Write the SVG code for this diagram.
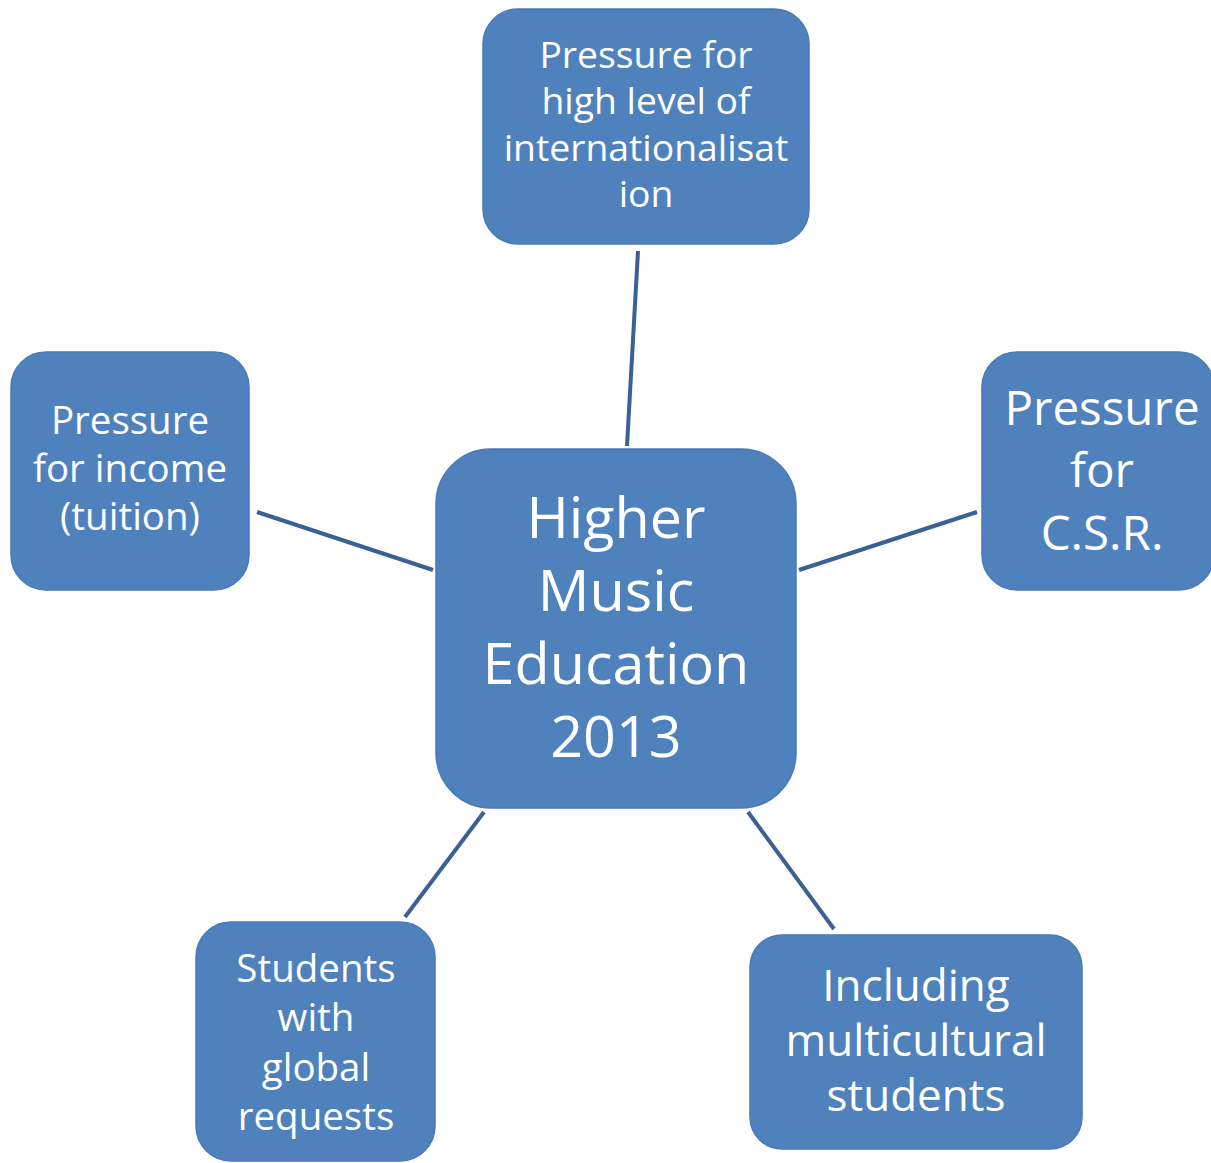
<svg xmlns="http://www.w3.org/2000/svg" width="1211" height="1163" viewBox="0 0 1211 1163">
<style>
.box{fill:#4F81BD;stroke:#4A7AB5;stroke-width:1.5}
.t{fill:#FFFFFF;font-family:"Open Sans","Noto Sans",sans-serif;text-anchor:middle}
.c{stroke:#3A6095;stroke-width:4;fill:none}
</style>
<rect width="1211" height="1163" fill="#FFFFFF"/>
<g id="connectors">
<line class="c" x1="638" y1="251" x2="627" y2="446"/>
<line class="c" x1="257" y1="512" x2="433" y2="570"/>
<line class="c" x1="799" y1="570" x2="977" y2="512"/>
<line class="c" x1="484" y1="812" x2="405" y2="917"/>
<line class="c" x1="748" y1="812" x2="834" y2="929"/>
</g>
<g id="node-center">
<rect class="box" x="436" y="449" width="360" height="359" rx="55"/>
<text class="t" font-size="57.5"><tspan x="616" y="538">Higher</tspan><tspan x="616" y="611">Music</tspan><tspan x="616" y="684">Education</tspan><tspan x="616" y="757">2013</tspan></text>
</g>
<g id="node-top">
<rect class="box" x="483" y="9" width="326" height="235" rx="35"/>
<text class="t" font-size="37.3"><tspan x="646" y="68">Pressure for</tspan><tspan x="646" y="114">high level of</tspan><tspan x="646" y="161">internationalisat</tspan><tspan x="646" y="207">ion</tspan></text>
</g>
<g id="node-left">
<rect class="box" x="11" y="352" width="238" height="238" rx="35"/>
<text class="t" font-size="38.5"><tspan x="130" y="434">Pressure</tspan><tspan x="130" y="482">for income</tspan><tspan x="130" y="530">(tuition)</tspan></text>
</g>
<g id="node-right">
<rect class="box" x="982" y="352" width="232" height="238" rx="35"/>
<text class="t" font-size="47.5"><tspan x="1102" y="425">Pressure</tspan><tspan x="1102" y="487">for</tspan><tspan x="1102" y="550">C.S.R.</tspan></text>
</g>
<g id="node-bottom-left">
<rect class="box" x="196" y="922" width="239" height="239" rx="35"/>
<text class="t" font-size="38.5"><tspan x="316" y="982">Students</tspan><tspan x="316" y="1031">with</tspan><tspan x="316" y="1081">global</tspan><tspan x="316" y="1130">requests</tspan></text>
</g>
<g id="node-bottom-right">
<rect class="box" x="750" y="935" width="332" height="214" rx="32"/>
<text class="t" font-size="44"><tspan x="916" y="1001">Including</tspan><tspan x="916" y="1056">multicultural</tspan><tspan x="916" y="1111">students</tspan></text>
</g>
</svg>
